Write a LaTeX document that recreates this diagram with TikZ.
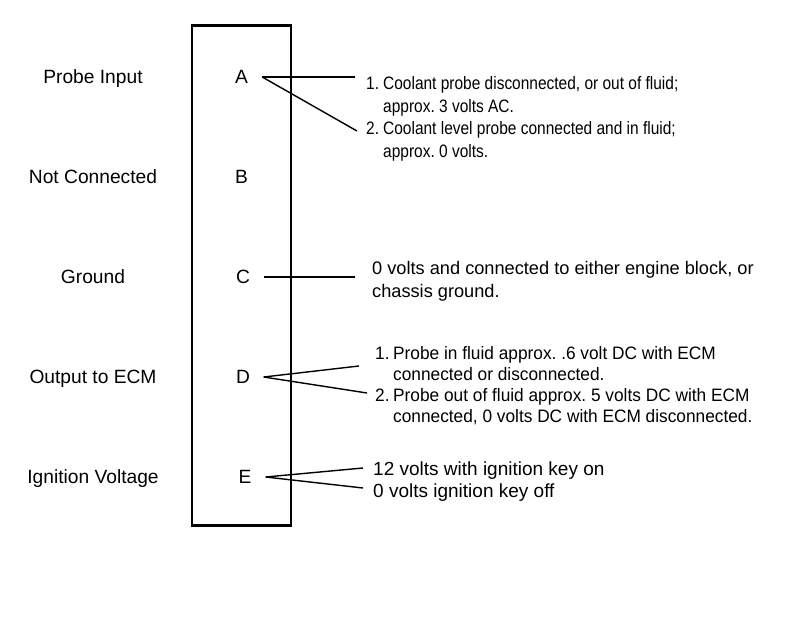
\documentclass[tikz,border=0pt]{standalone}
\usepackage{fontspec}
\setmainfont{Liberation Sans}
\newfontfamily\narrowfont[FakeStretch=0.86]{Liberation Sans}
\newfontfamily\notefont[FakeStretch=0.96]{Liberation Sans}
\usetikzlibrary{positioning}
\frenchspacing
\newcommand{\numbered}[4]{\makebox[#1][l]{#2}#3\\\hspace*{#1}#4}
\tikzstyle{housing}   = [rectangle, draw, line width=2.8pt, minimum width=99pt, minimum height=500pt, inner sep=0pt]
\tikzstyle{pinname}   = [font=\fontsize{19.2}{22}\selectfont, text height=13.7pt, text depth=0pt, minimum width=41pt, inner sep=0pt]
\tikzstyle{sidelabel} = [font=\fontsize{19.2}{22}\selectfont, text height=13.7pt, text depth=0pt, inner sep=0pt]
\tikzstyle{narrownote} = [font=\narrowfont\fontsize{18}{22.5}\selectfont, align=left, anchor=base west, inner sep=0pt]
\tikzstyle{note}      = [font=\notefont\fontsize{18}{21}\selectfont, align=left, anchor=base west, inner sep=0pt]
\tikzstyle{bignote}   = [font=\fontsize{19}{23.5}\selectfont, align=left, anchor=base west, inner sep=0pt]
\tikzstyle{wire}      = [draw, line width=1.4pt]
\begin{document}
\begin{tikzpicture}[x=1pt, y=-1pt, node distance=100pt]
            \useasboundingbox (0,0) rectangle (800,628);
            \node[housing] (plug) at (241.5,275.5) {};
            % pins
            \node[pinname] (pinA) at (241.5,77) {A};
            \node[pinname, below of=pinA] (pinB) {B};
            \node[pinname, below of=pinB, xshift=1.5pt] (pinC) {C};
            \node[pinname, below of=pinC] (pinD) {D};
            \node[pinname, below of=pinD, xshift=2pt] (pinE) {E};
            % pin functions
            \node[sidelabel, left of=pinA, node distance=148.5pt] (useA) {Probe Input};
            \node[sidelabel, below of=useA] (useB) {Not Connected};
            \node[sidelabel, below of=useB] (useC) {Ground};
            \node[sidelabel, below of=useC] (useD) {Output to ECM};
            \node[sidelabel, below of=useD] (useE) {Ignition Voltage};
            % readings (base = last line)
            \node[narrownote] (noteA1) at (366,112.5) {\numbered{17pt}{1.}{Coolant probe disconnected, or out of fluid;}{approx. 3 volts AC.}};
            \node[narrownote] (noteA2) at (366,157.5) {\numbered{17pt}{2.}{Coolant level probe connected and in fluid;}{approx. 0 volts.}};
            \node[bignote, font=\fontsize{18.2}{24}\selectfont] (noteC) at (372,298) {0 volts and connected to either engine block, or\\chassis ground.};
            \node[note] (noteD1) at (375,380) {\numbered{18pt}{1.}{Probe in fluid approx. .6 volt DC with ECM}{connected or disconnected.}};
            \node[note] (noteD2) at (375,422) {\numbered{18pt}{2.}{Probe out of fluid approx. 5 volts DC with ECM}{connected, 0 volts DC with ECM disconnected.}};
            \node[bignote] (noteE1) at (373,475) {12 volts with ignition key on};
            \node[bignote] (noteE2) at (373,497) {0 volts ignition key off};
            \coordinate (endA1) at (355,77);
            \coordinate (endA2) at (357,131);
            \coordinate (endC) at (355,277);
            \coordinate (endD1) at (359,366);
            \coordinate (endD2) at (367,393);
            \coordinate (endE1) at (363,468);
            \coordinate (endE2) at (363,488);

            \path [wire] (pinA.east) -- (endA1);
            \path [wire] (pinA.east) -- (endA2);
            \path [wire] (pinC.east) -- (endC);
            \path [wire] (pinD.east) -- (endD1);
            \path [wire] (pinD.east) -- (endD2);
            \path [wire] (pinE.east) -- (endE1);
            \path [wire] (pinE.east) -- (endE2);
        \end{tikzpicture}
\end{document}
